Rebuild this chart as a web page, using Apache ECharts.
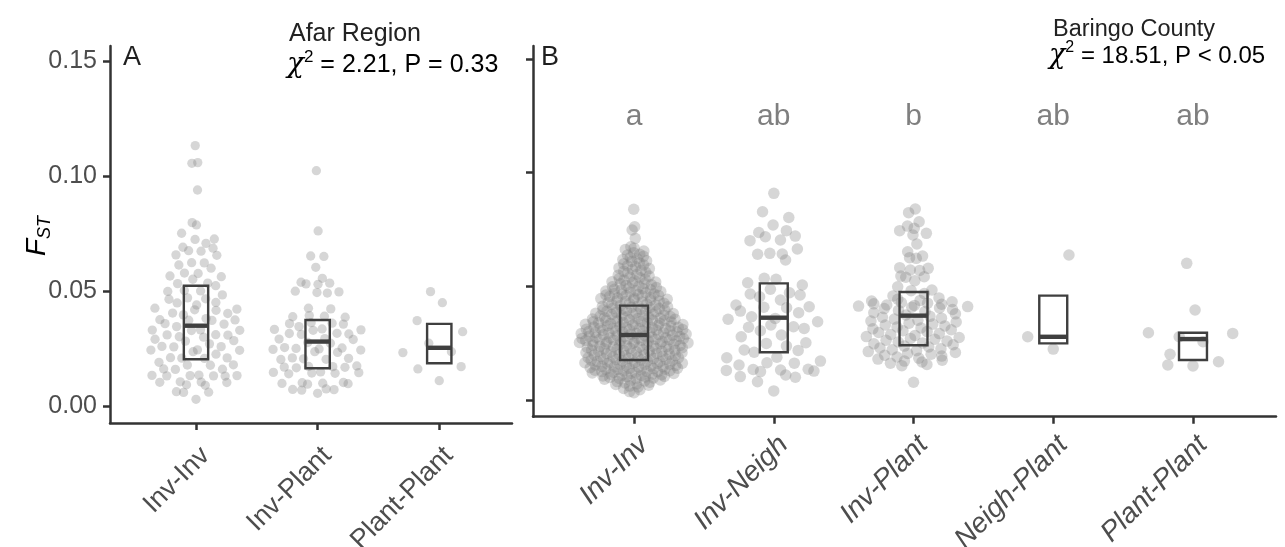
<!DOCTYPE html>
<html><head><meta charset="utf-8">
<script src="https://cdn.jsdelivr.net/npm/echarts@6/dist/echarts.min.js"></script>
<style>html,body{margin:0;padding:0;background:#fff}#c{width:1285px;height:547px}</style>
</head><body><div id="c"></div>
<script>
// ---------------- DATA ----------------
const catsA = ['Inv-Inv', 'Inv-Plant', 'Plant-Plant'];
const catsB = ['Inv-Inv', 'Inv-Neigh', 'Inv-Plant', 'Neigh-Plant', 'Plant-Plant'];
const yTicks = [0, 0.05, 0.10, 0.15];
const yTickLabels = ['0.00', '0.05', '0.10', '0.15'];
const lettersB = ['a', 'ab', 'b', 'ab', 'ab'];
const titleA = 'Afar Region';
const chiA = '2.21', pA = 'P = 0.33';
const titleB = 'Baringo County';
const chiB = '18.51', pB = 'P < 0.05';

const fstA_InvInv = [0.1132,0.1058,0.1055,0.0939,0.0797,0.0787,0.0751,0.0726,0.0724,0.0707,
0.0690,0.0686,0.0675,0.0673,0.0657,0.0655,0.0623,0.0622,0.0613,0.0599,
0.0578,0.0576,0.0565,0.0562,0.0551,0.0534,0.0532,0.0523,0.0502,0.0500,
0.0498,0.0483,0.0466,0.0464,0.0450,0.0448,0.0439,0.0425,0.0418,0.0416,
0.0404,0.0402,0.0396,0.0375,0.0374,0.0373,0.0372,0.0358,0.0356,0.0331,
0.0330,0.0329,0.0328,0.0310,0.0309,0.0308,0.0301,0.0299,0.0284,0.0282,
0.0259,0.0258,0.0257,0.0244,0.0243,0.0242,0.0210,0.0209,0.0208,0.0207,
0.0179,0.0178,0.0177,0.0161,0.0160,0.0159,0.0134,0.0133,0.0132,0.0132,
0.0131,0.0131,0.0130,0.0105,0.0104,0.0103,0.0102,0.0092,0.0090,0.0062,
0.0060,0.0059,0.0029,0.0470,0.0421,0.0380,0.0345,0.0290,0.0270,0.0236,
0.0225,0.0190];
const fstA_InvPlant = [0.1023,0.0761,0.0652,0.0650,0.0603,0.0555,0.0538,0.0534,0.0531,0.0529,
0.0499,0.0496,0.0493,0.0491,0.0425,0.0422,0.0393,0.0390,0.0388,0.0386,
0.0362,0.0360,0.0358,0.0356,0.0345,0.0335,0.0333,0.0331,0.0329,0.0316,
0.0315,0.0313,0.0311,0.0293,0.0291,0.0289,0.0276,0.0273,0.0254,0.0252,
0.0250,0.0248,0.0246,0.0243,0.0236,0.0233,0.0209,0.0207,0.0205,0.0203,
0.0202,0.0174,0.0172,0.0171,0.0169,0.0168,0.0166,0.0148,0.0146,0.0145,
0.0143,0.0142,0.0140,0.0102,0.0101,0.0099,0.0098,0.0097,0.0095,0.0074,
0.0072,0.0071,0.0069,0.0055];
const fstA_PlantPlant = [0.0497,0.0449,0.0371,0.0323,0.0273,0.0232,0.0236,0.0171,0.0161,0.0110];

const fstB_InvInv = [0.0839,0.0762,0.0748,0.0711,
0.0674,0.0668,0.0662,0.0655,0.0648,0.0641,0.0638,0.0632,0.0627,0.0621,
0.0618,0.0612,0.0609,0.0603,0.0599,0.0594,0.0590,0.0586,0.0581,
0.0578,0.0574,0.0571,0.0566,0.0562,0.0558,0.0553,0.0549,0.0545,0.0541,
0.0538,0.0534,0.0531,0.0527,0.0524,0.0520,0.0519,0.0516,0.0513,0.0511,0.0507,0.0504,0.0501,
0.0498,0.0495,0.0493,0.0490,0.0487,0.0486,0.0484,0.0481,
0.0479,0.0477,0.0474,0.0472,0.0469,0.0467,0.0465,0.0464,0.0462,0.0460,
0.0459,0.0457,0.0455,0.0452,0.0450,0.0448,0.0446,0.0443,0.0441,
0.0439,0.0437,0.0435,0.0433,0.0431,0.0429,0.0426,0.0424,0.0422,0.0420,0.0418,0.0416,
0.0414,0.0412,0.0410,0.0408,0.0406,0.0404,0.0402,0.0400,
0.0399,0.0397,0.0395,0.0393,0.0392,0.0390,0.0388,0.0386,0.0384,0.0382,0.0380,
0.0379,0.0377,0.0376,0.0374,0.0372,0.0371,0.0369,0.0367,0.0365,0.0363,0.0362,0.0360,
0.0359,0.0358,0.0356,0.0355,0.0353,0.0352,0.0350,0.0349,0.0347,0.0346,0.0344,0.0343,0.0341,0.0340,
0.0339,0.0338,0.0336,0.0335,0.0333,0.0332,0.0330,0.0329,0.0327,0.0326,0.0324,0.0323,0.0321,0.0320,
0.0319,0.0318,0.0317,0.0315,0.0314,0.0313,0.0311,0.0310,0.0309,0.0308,0.0307,0.0305,0.0304,0.0303,0.0301,0.0300,
0.0299,0.0298,0.0297,0.0295,0.0294,0.0293,0.0292,0.0290,0.0289,0.0288,0.0287,
0.0285,0.0283,0.0282,0.0280,0.0279,0.0278,0.0277,0.0275,0.0274,0.0273,0.0272,0.0271,0.0270,0.0268,0.0267,0.0266,0.0265,0.0264,0.0263,0.0262,0.0261,0.0260,
0.0259,0.0258,0.0257,0.0255,0.0254,0.0253,0.0251,0.0250,0.0248,0.0247,0.0245,0.0244,0.0243,0.0241,0.0240,
0.0239,0.0238,0.0237,0.0235,0.0234,0.0233,0.0231,0.0230,0.0228,0.0227,0.0225,0.0224,0.0223,0.0221,0.0220,
0.0219,0.0218,0.0216,0.0215,0.0214,0.0212,0.0211,0.0209,0.0208,0.0206,0.0205,0.0204,0.0202,0.0200,
0.0199,0.0198,0.0196,0.0195,0.0194,0.0192,0.0191,0.0189,0.0188,0.0186,0.0185,0.0184,0.0182,0.0180,
0.0179,0.0178,0.0176,
0.0175,0.0173,0.0172,0.0171,0.0169,0.0168,0.0166,0.0165,0.0164,0.0162,0.0161,0.0160,
0.0159,0.0158,0.0156,0.0155,0.0154,0.0152,0.0151,0.0149,0.0148,0.0146,0.0145,0.0144,0.0142,0.0140,
0.0139,0.0138,0.0136,0.0135,0.0134,0.0132,0.0131,0.0129,0.0128,0.0126,0.0125,0.0124,0.0122,0.0120,
0.0119,0.0117,0.0116,0.0114,0.0113,0.0111,0.0109,0.0108,0.0106,0.0104,0.0103,0.0101,
0.0099,0.0097,0.0095,0.0093,0.0091,0.0088,0.0086,0.0084,0.0081,
0.0078,0.0075,0.0071,0.0068,0.0065,0.0061,
0.0057,0.0051,0.0045,0.0037,0.0032];
const fstB_InvNeigh = [0.0909,0.0828,0.0803,0.0770,0.0745,0.0737,0.0701,0.0718,0.0704,0.0721,
0.0664,0.0641,0.0645,0.0642,0.0616,0.0516,0.0535,0.0531,0.0506,0.0487,
0.0472,0.0440,0.0462,0.0454,0.0466,0.0418,0.0410,0.0366,0.0408,0.0406,
0.0384,0.0391,0.0344,0.0355,0.0359,0.0330,0.0322,0.0305,0.0320,0.0315,
0.0286,0.0252,0.0220,0.0278,0.0249,0.0237,0.0218,0.0210,0.0188,0.0186,
0.0164,0.0162,0.0171,0.0132,0.0154,0.0130,0.0125,0.0134,0.0110,0.0135,
0.0127,0.0103,0.0080,0.0100,0.0040];
const fstB_InvPlant = [0.0840,0.0824,0.0784,0.0765,0.0755,0.0745,0.0733,0.0726,0.0686,0.0652,
0.0633,0.0626,0.0623,0.0582,0.0579,0.0572,0.0570,0.0545,0.0542,0.0540,
0.0525,0.0498,0.0484,0.0481,
0.0468,0.0458,0.0449,0.0443,
0.0438,0.0435,0.0432,0.0429,0.0426,0.0423,0.0421,0.0418,0.0416,0.0413,0.0411,0.0408,0.0405,0.0402,
0.0398,0.0394,0.0389,0.0384,0.0379,0.0374,
0.0368,0.0364,0.0360,0.0356,0.0351,0.0347,0.0343,0.0338,0.0334,0.0330,0.0326,0.0321,0.0317,0.0313,0.0309,0.0305,0.0301,
0.0297,0.0292,0.0288,0.0284,0.0279,0.0275,0.0271,0.0267,0.0263,0.0259,0.0255,0.0251,0.0247,0.0243,
0.0237,0.0233,0.0229,0.0225,0.0221,0.0217,0.0213,0.0209,0.0205,0.0201,
0.0197,0.0193,0.0189,0.0184,0.0180,0.0175,0.0171,0.0167,
0.0162,0.0156,0.0151,0.0078];
const fstB_NeighPlant = [0.0638,0.0278,0.0224];
const fstB_PlantPlant = [0.0601,0.0396,0.0296,0.0293,0.0278,0.0256,0.0201,0.0154,0.0150,0.0168];

// box statistics [q1, median, q3] per category
const boxA = [[0.0203,0.0349,0.0523],[0.0164,0.0280,0.0374],[0.0186,0.0253,0.0357]];
const boxB = [[0.0176,0.0286,0.0415],[0.0210,0.0362,0.0513],[0.0241,0.0371,0.0475],[0.0249,0.0278,0.0459],[0.0176,0.0268,0.0296]];
const letterY = 0.1245;

// ---------------- quasirandom (vipor) layout ----------------
function q7(s, p){ const h=(s.length-1)*p, lo=Math.floor(h), hi=Math.min(lo+1,s.length-1); return s[lo]+(h-lo)*(s[hi]-s[lo]); }
function nrd0(y){
  const n=y.length, s=[...y].sort((a,b)=>a-b);
  const m=y.reduce((a,b)=>a+b,0)/n;
  const sd=Math.sqrt(y.reduce((a,b)=>a+(b-m)*(b-m),0)/(n-1));
  let lo=Math.min(sd,(q7(s,.75)-q7(s,.25))/1.34);
  if(!(lo>0)) lo = sd || Math.abs(s[0]) || 1;
  return 0.9*lo*Math.pow(n,-0.2);
}
function vdc(i){ let r=0,f=0.5; while(i>0){ r+=f*(i%2); i=Math.floor(i/2); f/=2; } return r; }
function quasi(y, adjust){
  const n=y.length; if(n<2) return y.map(()=>0);
  const bw=nrd0(y)*adjust;
  const kde=v=>{ let s=0; for(const t of y){ const z=(v-t)/bw; s+=Math.exp(-0.5*z*z);} return s; };
  const lo=Math.min(...y)-3*bw, hi=Math.max(...y)+3*bw;
  let mx=0; for(let k=0;k<1024;k++) mx=Math.max(mx,kde(lo+(hi-lo)*k/1023));
  const idx=y.map((v,i)=>i).sort((a,b)=>(y[a]-y[b])||(a-b));
  const rank=new Array(n); idx.forEach((i,r)=>{rank[i]=r+1;});
  return y.map((v,i)=>(vdc(rank[i])-0.5)*2*kde(v)/mx);
}
const WIDTH = 0.4;
function swarm(groups){
  const out=[];
  groups.forEach((g,gi)=>{ const off=quasi(g,0.5); g.forEach((v,i)=>out.push([gi+1+off[i]*WIDTH, v])); });
  return out;
}
const ptsA = swarm([fstA_InvInv, fstA_InvPlant, fstA_PlantPlant]);
const ptsB = swarm([fstB_InvInv, fstB_InvNeigh, fstB_InvPlant, fstB_NeighPlant, fstB_PlantPlant]);

// ---------------- chart ----------------
const FONT = '"Liberation Sans", Arial, Helvetica, sans-serif';
const AX = '#333333', TXT = '#4d4d4d', BOXC = '#3f3f3f';
const chart = echarts.init(document.getElementById('c'), null, {renderer:'canvas'});

function boxRender(params, api){
  const x=api.value(0), q1=api.value(1), md=api.value(2), q3=api.value(3);
  const a=api.coord([x-0.1,q3]), b=api.coord([x+0.1,q1]);
  const m1=api.coord([x-0.1,md]), m2=api.coord([x+0.1,md]);
  return {type:'group', children:[
    {type:'rect', shape:{x:a[0],y:a[1],width:b[0]-a[0],height:b[1]-a[1]}, style:{fill:'none',stroke:BOXC,lineWidth:2.4}},
    {type:'line', shape:{x1:m1[0],y1:m1[1],x2:m2[0],y2:m2[1]}, style:{stroke:BOXC,lineWidth:4.4}}
  ]};
}
function xAxisFor(idx, cats, min, max, fs, margin, italic){
  return {type:'value', gridIndex:idx, min, max,
    axisLine:{show:true,onZero:false,lineStyle:{color:AX,width:2.5}},
    axisTick:{show:true,length:7,lineStyle:{color:AX,width:2.5},customValues:cats.map((c,i)=>i+1)},
    axisLabel:{show:true,rotate:45,margin:margin,fontSize:fs,color:TXT,fontFamily:FONT,verticalAlign:'top',
      fontStyle:italic?'italic':'normal',
      customValues:cats.map((c,i)=>i+1), formatter:v=>cats[Math.round(v)-1]||''},
    splitLine:{show:false}};
}
function yAxisFor(idx, min, max, showLabels){
  return {type:'value', gridIndex:idx, min, max,
    axisLine:{show:true,onZero:false,lineStyle:{color:AX,width:2.5}},
    axisTick:{show:true,length:7,lineStyle:{color:AX,width:2.5},customValues:yTicks},
    axisLabel:{show:showLabels,margin:13,fontSize:25,color:TXT,fontFamily:FONT,
      customValues:yTicks, formatter:v=>{const i=yTicks.findIndex(t=>Math.abs(t-v)<1e-9); return i>=0?yTickLabels[i]:'';}},
    splitLine:{show:false}};
}
function richChi(sz){ return {
  c:{fontSize:sz+3,fontStyle:'italic',fontFamily:'"DejaVu Serif", serif',color:'#222',lineHeight:32},
  s:{fontSize:Math.round(sz*0.68),fontFamily:FONT,color:'#222',verticalAlign:'top',lineHeight:16},
  t:{fontSize:sz,fontFamily:FONT,color:'#222',lineHeight:32}
};}
const option = {
  animation:false,
  backgroundColor:'#ffffff',
  grid:[
    {left:110, top:46, width:402, height:377, containLabel:false, outerBoundsMode:'none'},
    {left:533, top:46, width:743, height:370.7, containLabel:false, outerBoundsMode:'none'}
  ],
  xAxis:[ xAxisFor(0, catsA, 0.293, 3.598, 27, 19, false), xAxisFor(1, catsB, 0.277, 5.594, 28, 14, true) ],
  yAxis:[ yAxisFor(0, -0.0074, 0.1565, true), yAxisFor(1, -0.00735, 0.15572, false) ],
  series:[
    {type:'scatter', xAxisIndex:0, yAxisIndex:0, data:ptsA, symbolSize:9.3, silent:true, z:2,
      itemStyle:{color:'rgba(127,127,127,0.4)'}},
    {type:'scatter', xAxisIndex:1, yAxisIndex:1, data:ptsB, symbolSize:11.5, silent:true, z:2,
      itemStyle:{color:'rgba(127,127,127,0.4)'}},
    {type:'custom', xAxisIndex:0, yAxisIndex:0, z:3, silent:true, renderItem:boxRender,
      data:boxA.map((b,i)=>[i+1,b[0],b[1],b[2]])},
    {type:'custom', xAxisIndex:1, yAxisIndex:1, z:3, silent:true, renderItem:boxRender,
      data:boxB.map((b,i)=>[i+1,b[0],b[1],b[2]])},
    {type:'scatter', xAxisIndex:1, yAxisIndex:1, silent:true, symbolSize:1, z:4,
      itemStyle:{color:'rgba(0,0,0,0)'},
      data:lettersB.map((l,i)=>[i+1,letterY]),
      label:{show:true,position:'inside',formatter:p=>lettersB[p.dataIndex],fontSize:30,color:'#5f5f5f',fontFamily:FONT}}
  ],
  graphic:[
    {type:'text', x:123, y:58, style:{text:'A', font:'27px '+FONT, fill:'#1f1f1f', verticalAlign:'middle', align:'left'}},
    {type:'text', x:541, y:58, style:{text:'B', font:'27px '+FONT, fill:'#1f1f1f', verticalAlign:'middle', align:'left'}},
    {type:'text', x:289, y:34, style:{text:titleA, font:'25px '+FONT, fill:'#222', verticalAlign:'middle', align:'left'}},
    {type:'text', x:287, y:65, style:{text:'{c|χ}{s|2}{t| = '+chiA+', '+pA+'}', rich:richChi(25), verticalAlign:'middle', align:'left'}},
    {type:'text', x:1053, y:30, style:{text:titleB, font:'23.5px '+FONT, fill:'#222', verticalAlign:'middle', align:'left'}},
    {type:'text', x:1049, y:56, style:{text:'{c|χ}{s|2}{t| = '+chiB+', '+pB+'}', rich:richChi(24), verticalAlign:'middle', align:'left'}},
    {type:'text', x:37, y:236, rotation:Math.PI/2, style:{text:'{f|F}{s|ST}', align:'center', verticalAlign:'middle',
      rich:{f:{fontSize:28,fontStyle:'italic',fontFamily:FONT,color:'#222',lineHeight:34},
            s:{fontSize:18,fontStyle:'italic',fontFamily:FONT,color:'#222',verticalAlign:'bottom',lineHeight:18}}}}
  ]
};
chart.setOption(option);
</script></body></html>
